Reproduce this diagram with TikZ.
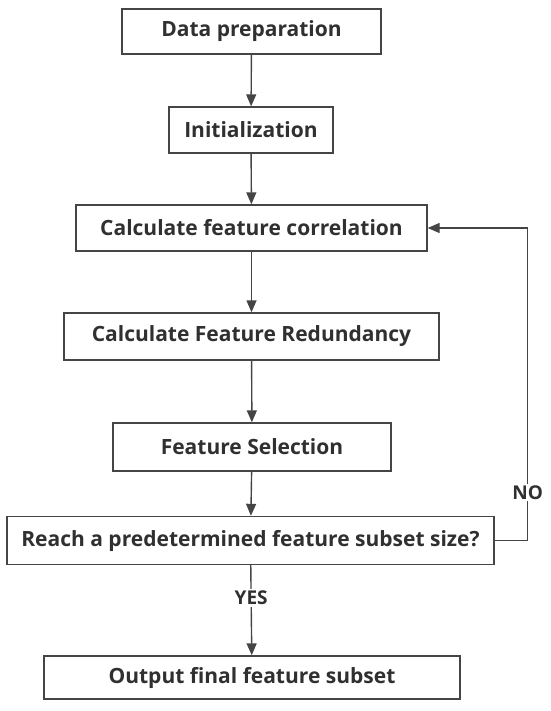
\documentclass[tikz,border=0pt]{standalone}
\usepackage{fontspec}
\setmainfont{Open Sans}
\usepackage{xcolor}
\usetikzlibrary{arrows.meta,positioning,calc}
\definecolor{linegray}{HTML}{454545}
\definecolor{textgray}{HTML}{303030}
\begin{document}
\begin{tikzpicture}[
  x=1pt,y=-1pt,
  box/.style={draw=linegray,line width=1.4pt,fill=white,align=center,inner sep=0pt,text=textgray,font=\fontsize{21}{25}\selectfont\bfseries},
  arrow/.style={-{Triangle[length=12pt,width=10pt]},line width=1.4pt,draw=linegray},
  lbl/.style={fill=white,inner sep=2pt,text=textgray,font=\fontsize{19}{22}\selectfont\bfseries}
]
\useasboundingbox (0,0) rectangle (550,711);
\node[box,minimum width=259pt,minimum height=45pt] (prep) at (251.5,31.5) {Data preparation};
\node[box,minimum width=164pt,minimum height=46pt] (init) at (251,130) {Initialization};
\node[box,minimum width=351pt,minimum height=46pt] (corr) at (251.5,228) {Calculate feature correlation};
\node[box,minimum width=375pt,minimum height=47pt] (redun) at (251.5,336.5) {Calculate Feature Redundancy};
\node[box,minimum width=278pt,minimum height=48pt] (sel) at (252,447) {Feature Selection};
\node[box,minimum width=487pt,minimum height=48pt] (check) at (250.5,540.5) {Reach a predetermined feature subset size?};
\node[box,minimum width=416pt,minimum height=43pt] (out) at (252,677.5) {Output final feature subset};
\draw[arrow] (prep) -- (init);
\draw[arrow] (init) -- (corr);
\draw[arrow] (corr) -- (redun);
\draw[arrow] (redun) -- (sel);
\draw[arrow] (sel) -- (check);
\draw[arrow] (check) -- node[lbl,pos=0.36] (yes) {YES} (out);
\draw[arrow] (check.east) -- ++(33,0) coordinate (loop) |- (corr.east);
\node[lbl] (no) at ($(loop)+(0,-48)$) {NO};
\end{tikzpicture}
\end{document}
